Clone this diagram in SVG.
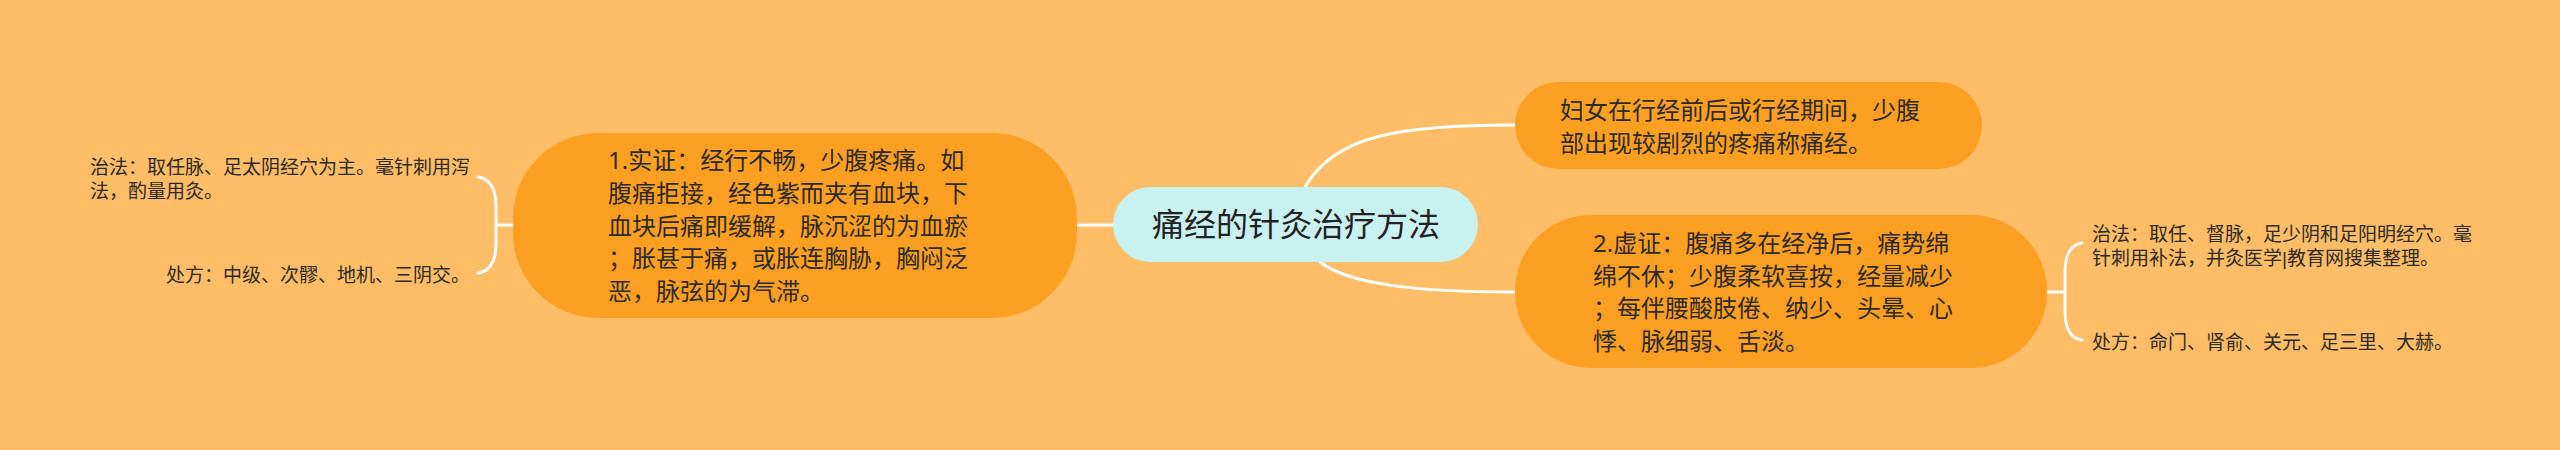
<svg xmlns="http://www.w3.org/2000/svg" width="2560" height="450" viewBox="0 0 2560 450">
<style>
.t{font-family:"Noto Sans","Noto Sans CJK SC",sans-serif;fill:#2e2a24}
.n{font-size:24px}
.s{font-size:19px}
.c{font-size:32px;fill:#222}
.bar{font-family:"Liberation Sans","Noto Sans CJK SC",sans-serif}
.node{fill:#FDA021}
.line{fill:none;stroke:#ffffff;stroke-width:3;stroke-linecap:round}
</style>
<rect x="0" y="0" width="2560" height="450" fill="#FEBD66"/>
<g id="connectors">
<path class="line" d="M1113,225 L1077,225"/>
<path class="line" d="M1305,187 C1335,135 1400,125 1515,125"/>
<path class="line" d="M1320,262 C1350,285 1420,292 1515,292"/>
<path class="line" d="M513,225 L496,225"/>
<path class="line" d="M478,177 C492,179 496,192 496,207 L496,243 C496,258 492,271 478,273"/>
<path class="line" d="M2047,292 L2065,292"/>
<path class="line" d="M2082,243 C2068,245 2065,258 2065,273 L2065,310 C2065,325 2068,338 2082,340"/>
</g>
<g id="central">
<rect x="1113" y="187" width="365" height="75" rx="37.5" fill="#C9F1EF"/>
<text class="t c" x="1296" y="236" text-anchor="middle">痛经的针灸治疗方法</text>
</g>
<g id="node-definition">
<rect class="node" x="1515" y="82" width="467" height="87" rx="43.5"/>
<text class="t n" x="1560" y="119">妇女在行经前后或行经期间，少腹</text>
<text class="t n" x="1560" y="152">部出现较剧烈的疼痛称痛经。</text>
</g>
<g id="node-shizheng">
<rect class="node" x="513" y="133" width="564" height="185" rx="85"/>
<text class="t n" x="608" y="169">1.实证：经行不畅，少腹疼痛。如</text>
<text class="t n" x="608" y="201.5">腹痛拒接，经色紫而夹有血块，下</text>
<text class="t n" x="608" y="234.5">血块后痛即缓解，脉沉涩的为血瘀</text>
<text class="t n" x="608" y="267">；胀甚于痛，或胀连胸胁，胸闷泛</text>
<text class="t n" x="608" y="300">恶，脉弦的为气滞。</text>
</g>
<g id="node-xuzheng">
<rect class="node" x="1515" y="215" width="532" height="153" rx="76"/>
<text class="t n" x="1593" y="252">2.虚证：腹痛多在经净后，痛势绵</text>
<text class="t n" x="1593" y="284.5">绵不休；少腹柔软喜按，经量减少</text>
<text class="t n" x="1593" y="317">；每伴腰酸肢倦、纳少、头晕、心</text>
<text class="t n" x="1593" y="350">悸、脉细弱、舌淡。</text>
</g>
<g id="leaf-left-zhifa">
<text class="t s" x="90" y="174">治法：取任脉、足太阴经穴为主。毫针刺用泻</text>
<text class="t s" x="90" y="198">法，酌量用灸。</text>
</g>
<g id="leaf-left-chufang">
<text class="t s" x="470" y="282" text-anchor="end">处方：中级、次髎、地机、三阴交。</text>
</g>
<g id="leaf-right-zhifa">
<text class="t s" x="2092" y="241">治法：取任、督脉，足少阴和足阳明经穴。毫</text>
<text class="t s" x="2092" y="265">针刺用补法，并灸医学<tspan class="bar">|</tspan>教育网搜集整理。</text>
</g>
<g id="leaf-right-chufang">
<text class="t s" x="2092" y="349">处方：命门、肾俞、关元、足三里、大赫。</text>
</g>
</svg>
